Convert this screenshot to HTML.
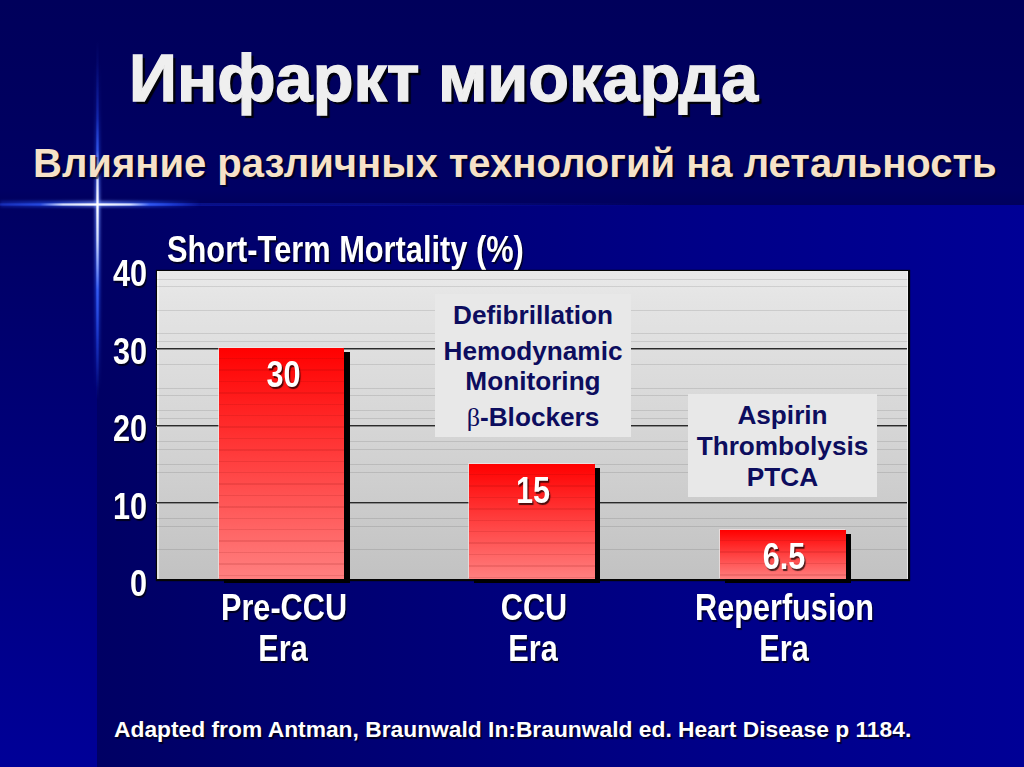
<!DOCTYPE html>
<html><head><meta charset="utf-8">
<style>
*{margin:0;padding:0;box-sizing:border-box}
html,body{width:1024px;height:767px;overflow:hidden;background:linear-gradient(to bottom,#00005b 0px,#00005f 100px,#000064 190px,#00005c 205px)}
body{position:relative;font-family:"Liberation Sans",sans-serif;font-weight:bold}
.abs{position:absolute}
#bgL{left:0;top:205px;width:97px;height:562px;background:linear-gradient(to bottom,#000062 0%,#00007c 49%,#000098 100%)}
#bgM{left:97px;top:205px;width:927px;height:562px;background:linear-gradient(to right,#000064 0%,#000074 30%,#000086 62%,#000096 100%)}
#hglow{left:97px;top:203px;width:560px;height:3px;background:linear-gradient(to right,rgba(30,60,255,.3) 0%,rgba(30,60,255,.2) 50%,rgba(30,60,255,0) 100%)}
#vline{left:96px;top:40px;width:3px;height:360px;background:linear-gradient(to bottom,rgba(40,80,255,0) 0%,rgba(40,80,255,.15) 11%,rgba(40,80,255,.35) 22%,rgba(60,100,255,.7) 30.5%,rgba(220,228,255,.9) 37.5%,#fff 45.8%,rgba(220,228,255,.92) 55.6%,rgba(60,100,255,.8) 69.4%,rgba(40,80,255,.45) 83%,rgba(40,80,255,0) 100%);-webkit-mask-image:linear-gradient(to right,rgba(0,0,0,.45),#000 50%,rgba(0,0,0,.45))}
#hline{left:0;top:203px;width:200px;height:3px;background:linear-gradient(to right,rgba(40,80,255,.35) 0%,rgba(50,90,255,.6) 20%,rgba(225,232,255,.92) 31.5%,#fff 48.5%,rgba(225,232,255,.92) 65%,rgba(60,100,255,.7) 75%,rgba(40,80,255,.4) 87.5%,rgba(40,80,255,0) 100%);-webkit-mask-image:linear-gradient(to bottom,rgba(0,0,0,.45),#000 50%,rgba(0,0,0,.45))}
#vglow{left:95px;top:60px;width:5px;height:330px;filter:blur(1.5px);background:linear-gradient(to bottom,rgba(40,80,255,0) 0%,rgba(40,80,255,.15) 15%,rgba(40,90,255,.5) 30%,rgba(120,150,255,.8) 44%,rgba(40,90,255,.6) 70%,rgba(40,80,255,0) 100%)}
#hglow2{left:0;top:201px;width:200px;height:6px;filter:blur(1.5px);background:linear-gradient(to right,rgba(40,80,255,.3) 0%,rgba(40,90,255,.55) 25%,rgba(120,150,255,.75) 48%,rgba(40,90,255,.55) 75%,rgba(40,80,255,0) 100%)}
.sh{text-shadow:3px 3px 1px rgba(0,0,0,.9)}
.sh1{text-shadow:1.5px 1.5px 1px rgba(0,0,0,.7)}
#title{left:129px;top:38px;font-size:66.7px;color:#efefef;-webkit-text-stroke:1.3px #efefef;white-space:nowrap;line-height:80px}
#sub{left:33px;top:138px;font-size:40px;color:#f6e2c8;white-space:nowrap;line-height:50px;text-shadow:2px 2px 1px rgba(0,0,0,.6)}
#ctitle{left:167px;top:230px;font-size:36px;color:#fff;line-height:40px;transform-origin:0 0;transform:scaleX(.855);white-space:nowrap}
.yl{left:90px;width:57px;text-align:right;font-size:36.5px;color:#fff;line-height:40px;transform-origin:100% 0;transform:scaleX(.84)}
#plotsh{left:156px;top:270px;width:754px;height:311px;background:#050505;box-shadow:0 0 1px #000}
#plot{left:157px;top:271px;width:751px;height:308px;background:linear-gradient(to bottom,#e9e9e9 0%,#e4e4e4 10%,#d6d6d6 50%,#c2c2c2 100%)}
#plot:before{content:"";position:absolute;left:0;top:0;width:2px;height:100%;background:rgba(255,255,255,.5)}
#plot:after{content:"";position:absolute;right:0;top:0;width:1px;height:100%;background:rgba(255,255,255,.6)}
.g{position:absolute;left:0;width:100%;height:1px;background:rgba(0,0,0,.1)}
.G{position:absolute;left:-1px;width:100%;height:2px;background:linear-gradient(to bottom,#2a2a2a 0%,#2a2a2a 50%,#8a8a8a 50%,#8a8a8a 100%)}
.bar{background:repeating-linear-gradient(to bottom,rgba(0,0,0,0) 0px,rgba(0,0,0,0) 10px,rgba(120,0,0,.12) 10px,rgba(120,0,0,.12) 11.4px),linear-gradient(to bottom,#ff0000 0%,#ff4040 50%,#ff8080 100%)}
.bsh{background:#000}
.bar{box-shadow:-1px -1px 0 rgba(255,235,235,.55)}
.bl{font-size:36.5px;color:#fff;text-align:center;line-height:40px;transform:scaleX(.84)}
.box{background:#e8e8e8;color:#0d0d5e;text-align:center;font-size:26.2px;white-space:nowrap}
.box div{position:absolute;left:0;width:100%;line-height:30px}
.xl{font-size:36.5px;color:#fff;text-align:center;line-height:41px;white-space:nowrap;transform:scaleX(.84)}
#foot{left:114px;top:714px;font-size:22.8px;color:#fff;white-space:nowrap;line-height:30px}
</style></head><body>
<div id="bgL" class="abs"></div>
<div id="bgM" class="abs"></div>
<div id="hglow" class="abs"></div>
<div id="vglow" class="abs"></div>
<div id="hglow2" class="abs"></div>
<div id="vline" class="abs"></div>
<div id="hline" class="abs"></div>

<div id="title" class="abs sh">Инфаркт миокарда</div>
<div id="sub" class="abs sh">Влияние различных технологий на летальность</div>

<div id="ctitle" class="abs sh1">Short-Term Mortality (%)</div>

<div class="abs yl sh1" style="top:254px">40</div>
<div class="abs yl sh1" style="top:331.5px">30</div>
<div class="abs yl sh1" style="top:409px">20</div>
<div class="abs yl sh1" style="top:486.5px">10</div>
<div class="abs yl sh1" style="top:564px">0</div>

<div id="plotsh" class="abs"></div>
<div id="plot" class="abs">
  <div class="g" style="top:8px"></div>
  <div class="g" style="top:15px"></div>
  <div class="g" style="top:39px"></div>
  <div class="g" style="top:62px"></div>
  <div class="g" style="top:70px"></div>
  <div class="G" style="top:77px"></div>
  <div class="g" style="top:93px"></div>
  <div class="g" style="top:117px"></div>
  <div class="g" style="top:124px"></div>
  <div class="g" style="top:139px"></div>
  <div class="g" style="top:147px"></div>
  <div class="G" style="top:154px"></div>
  <div class="g" style="top:170px"></div>
  <div class="g" style="top:178px"></div>
  <div class="g" style="top:193px"></div>
  <div class="g" style="top:201px"></div>
  <div class="G" style="top:231px"></div>
  <div class="g" style="top:247px"></div>
  <div class="g" style="top:255px"></div>
  <div class="g" style="top:278px"></div>
</div>

<!-- bars -->
<div class="abs bsh" style="left:224px;top:352px;width:126px;height:231px"></div>
<div class="abs bar" style="left:219px;top:348px;width:125px;height:231px"></div>
<div class="abs bl sh1" style="left:221px;top:355px;width:125px">30</div>

<div class="abs bsh" style="left:474px;top:468px;width:126px;height:115px"></div>
<div class="abs bar" style="left:469px;top:464px;width:126px;height:115px"></div>
<div class="abs bl sh1" style="left:470px;top:471px;width:126px">15</div>

<div class="abs bsh" style="left:725px;top:534px;width:126px;height:49px"></div>
<div class="abs bar" style="left:720px;top:530px;width:126px;height:49px"></div>
<div class="abs bl sh1" style="left:721px;top:537px;width:126px">6.5</div>

<!-- boxes -->
<div class="abs box" style="left:435px;top:294px;width:196px;height:143px">
  <div style="top:5.9px">Defibrillation</div>
  <div style="top:41.6px">Hemodynamic</div>
  <div style="top:72.4px">Monitoring</div>
  <div style="top:108px"><span style="font-family:'Liberation Serif',serif;font-weight:normal">β</span>-Blockers</div>
</div>
<div class="abs box" style="left:688px;top:394px;width:189px;height:103px">
  <div style="top:6px">Aspirin</div>
  <div style="top:37px">Thrombolysis</div>
  <div style="top:68px">PTCA</div>
</div>

<!-- x labels -->
<div class="abs xl sh1" style="left:183.7px;top:586.5px;width:200px">Pre-CCU</div>
<div class="abs xl sh1" style="left:182.5px;top:627.5px;width:200px">Era</div>
<div class="abs xl sh1" style="left:434px;top:586.5px;width:200px">CCU</div>
<div class="abs xl sh1" style="left:432.7px;top:627.5px;width:200px">Era</div>
<div class="abs xl sh1" style="left:679px;top:586.5px;width:200px">Reperfusion</div>
<div class="abs xl sh1" style="left:683.5px;top:627.5px;width:200px">Era</div>

<div id="foot" class="abs sh1">Adapted from Antman, Braunwald In:Braunwald ed. Heart Disease p 1184.</div>
</body></html>
